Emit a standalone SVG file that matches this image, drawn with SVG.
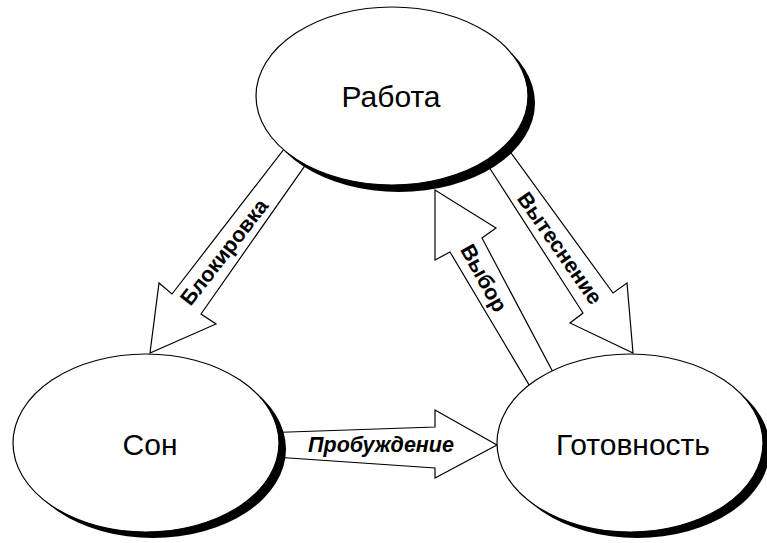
<svg xmlns="http://www.w3.org/2000/svg" width="767" height="543" viewBox="0 0 767 543">
<style>
.arrow{fill:#fff;stroke:#000;stroke-width:1.2;stroke-linejoin:miter}
.shadow{fill:#000}
.node{fill:#fff;stroke:#000;stroke-width:1.2}
.nt{font-family:"Liberation Sans",Arial,sans-serif;font-size:30px;text-anchor:middle;fill:#000}
.lt{font-family:"Liberation Sans",Arial,sans-serif;font-size:21.5px;font-weight:bold;text-anchor:middle;fill:#000}
</style>
<rect width="767" height="543" fill="#fff"/>
<g id="connectors">
  <g id="blokirovka">
    <polygon class="arrow" points="298,131 318,147 201,314 216,324 150,353 159,283 172,294"/>
    <text class="lt" transform="translate(224,252) rotate(-52)" y="7.5">Блокировка</text>
  </g>
  <g id="vytesnenie">
    <polygon class="arrow" points="478,150 498,135 613,293 627,283 633,353 570,323 583,313"/>
    <text class="lt" transform="translate(560,248) rotate(55)" y="7.5">Вытеснение</text>
  </g>
  <g id="vybor">
    <polygon class="arrow" points="541,405 564,393 482,238 496,228 435,190 435,260 450,252"/>
    <text class="lt" transform="translate(484,278) rotate(61)" y="7.5">Выбор</text>
  </g>
  <g id="probuzhdenie">
    <polygon class="arrow" points="260,433 435,427 435,410 497,445 435,478 435,468 260,456"/>
    <text class="lt" x="381" y="452" font-style="italic">Пробуждение</text>
  </g>
</g>
<g id="rabota">
  <ellipse class="shadow" cx="399" cy="103" rx="136" ry="89"/>
  <ellipse class="node" cx="392" cy="96" rx="136" ry="89"/>
  <text class="nt" x="391" y="107">Работа</text>
</g>
<g id="son">
  <ellipse class="shadow" cx="153" cy="449" rx="133" ry="89"/>
  <ellipse class="node" cx="146" cy="443" rx="133" ry="89"/>
  <text class="nt" x="150" y="455">Сон</text>
</g>
<g id="gotovnost">
  <ellipse class="shadow" cx="637" cy="449" rx="133" ry="89"/>
  <ellipse class="node" cx="630" cy="443" rx="133" ry="89"/>
  <text class="nt" x="633" y="455">Готовность</text>
</g>
</svg>
